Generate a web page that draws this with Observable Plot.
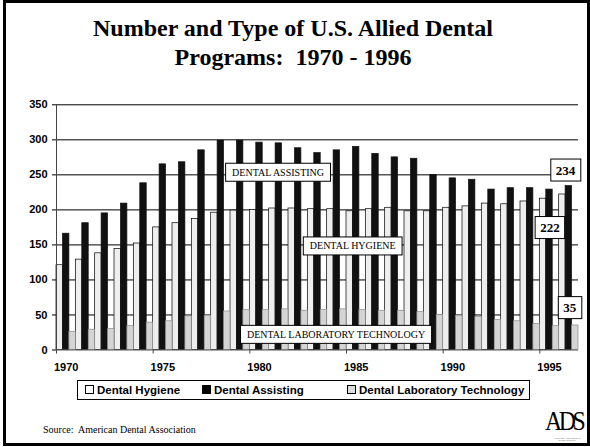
<!DOCTYPE html>
<html>
<head>
<meta charset="utf-8">
<script src="https://cdn.jsdelivr.net/npm/d3@7"></script>
<script src="https://cdn.jsdelivr.net/npm/@observablehq/plot@0.6"></script>
<style>
  body { margin: 0; background: #fff; }
  #page { position: relative; width: 590px; height: 447px; overflow: hidden; background: #fff; }
  #frame { position: absolute; left: 3px; top: 0; width: 587px; height: 446px; border: 3px solid #000; box-sizing: border-box; }
  #title { position: absolute; left: 0; top: 14px; width: 586px; text-align: center; font: bold 24px/29px "Liberation Serif", "Times New Roman", serif; color: #000; }
  #chart { position: absolute; left: 0; top: 80px; }
  #legend { position: absolute; left: 77px; top: 380px; width: 453px; height: 20px; border: 1px solid #000; box-sizing: border-box; font: bold 11.5px "Liberation Sans", Arial, sans-serif; }
  .item { position: absolute; top: 0; line-height: 18px; white-space: nowrap; }
  .sw { display: inline-block; width: 7px; height: 7px; border: 1px solid #000; margin-right: 3px; vertical-align: 0px; }
  #source { position: absolute; left: 43px; top: 424px; font: 10px/12px "Liberation Serif", "Times New Roman", serif; }
  #logo { position: absolute; left: 545px; top: 410px; font: 28px/22px "Liberation Serif", serif; letter-spacing: -4px; transform: scaleX(0.85); transform-origin: left top; }
  #logosub { position: absolute; left: 549px; top: 437.5px; width: 36px; text-align: center; font: 2.5px/2.5px "Liberation Sans", sans-serif; color: #777; }
</style>
</head>
<body>
<div id="page">
  <div id="frame"></div>
  <div id="title">Number and Type of U.S. Allied Dental<br>Programs:&nbsp; 1970 - 1996</div>
  <div id="chart"></div>
  <div id="legend"></div>
  <div id="source">Source:&nbsp; American Dental Association</div>
  <div id="logo">ADS</div>
  <div id="logosub">American Association of<br>Dental Schools</div>
</div>
<script>
// ---- data ----
const years = [1970,1971,1972,1973,1974,1975,1976,1977,1978,1979,1980,1981,1982,1983,1984,1985,1986,1987,1988,1989,1990,1991,1992,1993,1994,1995,1996];
const hygiene   = [121,129,138,144,152,175,181,187,196,199,200,202,202,201,201,198,201,203,198,198,203,205,209,208,212,216,222];
const assisting = [166,181,195,209,238,265,268,285,299,299,296,295,288,281,285,290,280,275,273,250,245,243,229,231,231,229,234];
const labTech   = [26,29,30,34,39,41,48,49,55,57,57,58,56,57,58,57,56,56,54,50,49,47,43,41,37,34,35];
const seriesNames = ["Dental Hygiene", "Dental Assisting", "Dental Laboratory Technology"];
const yTicks = [0,50,100,150,200,250,300,350];
const xLabelYears = [1970,1975,1980,1985,1990,1995];
const annotationTexts = ["DENTAL ASSISTING", "DENTAL HYGIENE", "DENTAL LABORATORY TECHNOLOGY"];

// ---- styles ----
const fills = ["#eeeeee", "#111111", "#d4d4d4"];
const strokes = ["#000000", "#111111", "#8a8a8a"];

// ---- derived tables ----
const all = [hygiene, assisting, labTech];
const rows = years.flatMap((yr, i) => all.map((arr, j) => ({year: yr, j, series: seriesNames[j], value: arr[i]})));
const boundaries = xLabelYears.map(y => y - 0.5);
const last = years.length - 1;
const lastYear = years[last];

// annotation anchors in data space
const annotations = [
  {x: 1980.96, y: 253.3, text: annotationTexts[0]},
  {x: 1984.82, y: 148.1, text: annotationTexts[1]},
  {x: 1983.96, y: 21.9,  text: annotationTexts[2]}
];
const valueLabels = [
  {x: lastYear - 0.17, y: 256.4, text: String(assisting[last])},
  {x: lastYear - 0.98, y: 174.3, text: String(hygiene[last])},
  {x: lastYear + 0.05, y: 60,    text: String(labTech[last])}
];

const barMark = j => Plot.rectY(rows.filter(d => d.j === j), {
  x1: d => d.year - 0.5 + d.j / 3,
  x2: d => d.year - 0.5 + (d.j + 1) / 3,
  y1: 0, y2: "value",
  fill: fills[j], stroke: strokes[j], strokeWidth: 0.7
});

const chart = Plot.plot({
  width: 590, height: 300,
  marginLeft: 56, marginRight: 12, marginTop: 24.3, marginBottom: 30.5,
  x: {domain: [years[0] - 0.5, lastYear + 0.5]},
  y: {domain: [0, 350]},
  style: {fontFamily: "'Liberation Sans', Arial, sans-serif", fontSize: "11px", fontWeight: "bold", background: "none", overflow: "visible", color: "#000"},
  marks: [
    Plot.gridY(yTicks.slice(1), {stroke: "#000", strokeOpacity: 1, strokeWidth: 1}),
    barMark(0), barMark(1), barMark(2),
    Plot.ruleX([years[0] - 0.5], {stroke: "#444"}),
    Plot.ruleY([0], {stroke: "#555"}),
    Plot.axisY({ticks: yTicks, tickSize: 4, tickPadding: 5, label: null, tickFormat: d => String(d), stroke: "#000"}),
    Plot.axisX({ticks: boundaries, tickSize: 4, tickPadding: 0, label: null, tickFormat: () => "", stroke: "#444"}),
    Plot.axisX({ticks: xLabelYears, tickSize: 0, tickPadding: 13, label: null, tickFormat: d => String(d)}),
    Plot.text(annotations, {x: "x", y: "y", text: "text", fontFamily: "'Liberation Serif', 'Times New Roman', serif", fontSize: 10, fontWeight: "normal", fill: "#000"}),
    Plot.text(valueLabels, {x: "x", y: "y", text: "text", fontFamily: "'Liberation Serif', 'Times New Roman', serif", fontSize: 13, fontWeight: "bold", fill: "#000"})
  ]
});
document.getElementById("chart").appendChild(chart);

// draw white boxes behind annotation texts
const NS = "http://www.w3.org/2000/svg";
const labelSet = new Set(annotations.map(d => d.text));
const valueSet = new Set(valueLabels.map(d => d.text));
chart.querySelectorAll("text").forEach(t => {
  const s = t.textContent;
  let padX, h;
  const g = t.closest("g");
  if (labelSet.has(s)) { padX = 6.5; h = 18; }
  else if (valueSet.has(s) && g && g.getAttribute("font-size") === "13") { padX = 5; h = 22; }
  else return;
  const b = t.getBBox();
  const cy = b.y + b.height / 2;
  const r = document.createElementNS(NS, "rect");
  r.setAttribute("x", b.x - padX);
  r.setAttribute("y", cy - h / 2);
  r.setAttribute("width", b.width + 2 * padX);
  r.setAttribute("height", h);
  r.setAttribute("fill", "#fff");
  r.setAttribute("stroke", "#000");
  r.setAttribute("stroke-width", 1);
  const tr = t.getAttribute("transform");
  if (tr) r.setAttribute("transform", tr);
  t.parentNode.insertBefore(r, t);
});

// legend
const legend = document.getElementById("legend");
const itemLeft = [7, 124, 269];
const swFill = ["#ffffff", "#000000", "#dddddd"];
seriesNames.forEach((name, j) => {
  const it = document.createElement("span");
  it.className = "item";
  it.style.left = itemLeft[j] + "px";
  const sw = document.createElement("span");
  sw.className = "sw";
  sw.style.background = swFill[j];
  it.appendChild(sw);
  it.appendChild(document.createTextNode(name));
  legend.appendChild(it);
});
</script>
</body>
</html>
